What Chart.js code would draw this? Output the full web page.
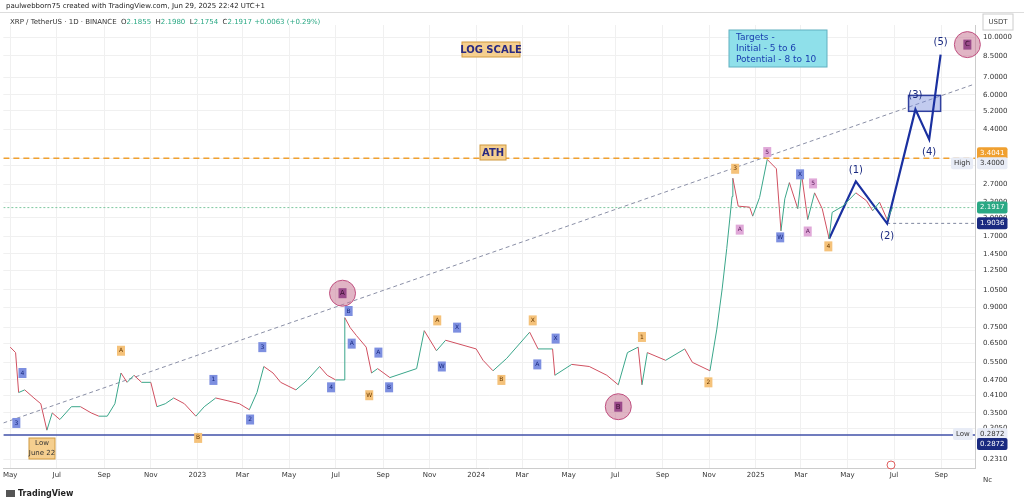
<!DOCTYPE html>
<html><head><meta charset="utf-8">
<script src="https://cdn.jsdelivr.net/npm/chart.js@4/dist/chart.umd.min.js"></script>
<style>html,body{margin:0;padding:0;background:#fff;overflow:hidden}#w{position:relative;width:1024px;height:501px}canvas{display:block}</style>
</head><body><div id="w"><canvas id="c" width="1024" height="501"></canvas></div>
<script>
const priceDates=["2022-05-01","2022-05-08","2022-05-12","2022-05-20","2022-06-01","2022-06-10","2022-06-18","2022-06-25","2022-07-05","2022-07-20","2022-08-01","2022-08-15","2022-08-25","2022-09-05","2022-09-15","2022-09-23","2022-10-01","2022-10-10","2022-10-20","2022-11-01","2022-11-09","2022-11-20","2022-12-01","2022-12-15","2022-12-30","2023-01-10","2023-01-25","2023-02-10","2023-02-25","2023-03-10","2023-03-20","2023-03-29","2023-04-10","2023-04-20","2023-05-10","2023-05-25","2023-06-10","2023-06-20","2023-07-01","2023-07-12","2023-07-13","2023-07-20","2023-07-28","2023-08-10","2023-08-17","2023-08-25","2023-09-10","2023-10-15","2023-10-25","2023-11-10","2023-11-22","2024-01-01","2024-01-10","2024-01-23","2024-02-10","2024-03-11","2024-03-22","2024-04-10","2024-04-13","2024-05-05","2024-05-28","2024-06-20","2024-07-05","2024-07-17","2024-07-31","2024-08-05","2024-08-12","2024-09-05","2024-09-30","2024-10-10","2024-11-02","2024-11-11","2024-11-18","2024-11-24","2024-12-01","2024-12-02","2024-12-09","2024-12-24","2024-12-28","2025-01-06","2025-01-16","2025-01-28","2025-02-03","2025-02-08","2025-02-14","2025-02-25","2025-03-02","2025-03-10","2025-03-19","2025-03-29","2025-04-07","2025-04-11","2025-04-25","2025-05-12","2025-05-26","2025-06-03","2025-06-12","2025-06-22","2025-06-29"];
const priceValues=[0.63,0.60,0.42,0.43,0.40,0.38,0.30,0.35,0.33,0.37,0.37,0.35,0.34,0.34,0.38,0.50,0.46,0.49,0.46,0.46,0.37,0.38,0.40,0.38,0.34,0.37,0.40,0.39,0.38,0.36,0.42,0.53,0.50,0.46,0.43,0.47,0.53,0.49,0.47,0.47,0.82,0.75,0.70,0.63,0.50,0.52,0.48,0.52,0.73,0.61,0.67,0.62,0.56,0.51,0.57,0.72,0.62,0.62,0.49,0.54,0.53,0.49,0.45,0.60,0.63,0.45,0.60,0.56,0.62,0.55,0.51,0.74,1.06,1.52,2.42,2.85,2.22,2.20,2.03,2.40,3.37,3.10,1.78,2.37,2.74,2.17,2.95,1.97,2.50,2.17,1.66,2.10,2.22,2.50,2.33,2.13,2.30,1.97,2.19];
const projDates=["2025-04-07","2025-05-12","2025-06-22","2025-07-29","2025-08-16","2025-08-31"];
const projValues=[1.66,2.77,1.90,5.27,4.03,8.6];
const projLabels=["","(1)","(2)","(3)","(4)","(5)"];
const yTickValues=[10,8.5,7,6,5.2,4.4,3.4,3.2,2.7,2.3,2.0,1.7,1.45,1.25,1.05,0.9,0.75,0.65,0.55,0.47,0.41,0.35,0.305,0.231];
const markDates=["2022-05-09","2022-05-17","2022-09-23","2023-01-02","2023-01-22","2023-03-11","2023-03-27","2023-06-25","2023-07-18","2023-07-22","2023-08-14","2023-08-26","2023-09-09","2023-11-11","2023-11-17","2023-12-07","2024-02-03","2024-03-15","2024-03-21","2024-04-14","2024-08-05","2024-10-31","2024-12-05","2024-12-11","2025-01-16","2025-02-02","2025-02-28","2025-03-10","2025-03-17","2025-04-06"];
const markValues=[0.32,0.50,0.61,0.28,0.47,0.33,0.63,0.44,0.87,0.65,0.41,0.60,0.44,0.80,0.53,0.75,0.47,0.80,0.54,0.68,0.69,0.46,3.1,1.8,3.6,1.68,2.95,1.77,2.72,1.55];
const markTexts=["3","4","A","B","1","2","3","4","B","A","W","A","B","A","W","X","B","X","A","X","1","2","3","A","5","W","X","A","5","4"];
const markKinds=["b","b","o","o","b","b","b","b","b","b","o","b","b","o","b","b","o","o","b","b","o","o","o","p","p","b","b","p","p","o"];
const circleDates=["2023-07-10","2024-07-05","2025-10-05"];
const circleValues=[1.02,0.37,9.4];
const circleTexts=["A","B","C"];
const trendDates=["2022-04-22","2025-10-14"];
const trendValues=[0.32,6.6];
const levelATH=3.4041, levelLast=2.1917, levelPivot=1.9036, levelLow=0.2872;
const boxDates=["2025-07-20","2025-08-31"], boxValues=[5.18,5.97];

const T0=Date.parse("2022-04-22");
const day=s=>(Date.parse(s)-T0)/864e5;
const pricePts=priceDates.map((d,i)=>({x:day(d),y:priceValues[i]}));
const projPts=projDates.map((d,i)=>({x:day(d),y:projValues[i]}));
const mons=["Jan","Feb","Mar","Apr","May","Jun","Jul","Aug","Sep","Oct","Nov","Dec"];
const xTicks=[];
for(let y=2022;y<=2025;y++)for(let m=0;m<12;m+=2){const mm=(m+4)%12,yy=y+Math.floor((m+4)/12);const v=(Date.UTC(yy,mm,1)-T0)/864e5;if(v>0&&v<1272&&!xTicks.find(t=>t.v===v))xTicks.push({v,l:mm===0?String(yy):mons[mm]});}

function rr(ctx,x,y,w,h,r){ctx.beginPath();ctx.roundRect(x,y,w,h,r);}
function tag(ctx,x,y,text,bg,fg,font){ctx.font=font||'7px "DejaVu Sans"';const w=ctx.measureText(text).width+6;ctx.fillStyle=bg;rr(ctx,x,y-6,w,12,2);ctx.fill();ctx.fillStyle=fg;ctx.textBaseline='middle';ctx.textAlign='left';ctx.fillText(text,x+3,y);}

const overlay={id:'ov',
beforeDatasetsDraw(ch){const {ctx,scales:{x,y},chartArea:a}=ch;ctx.save();
 ctx.beginPath();ctx.rect(a.left,a.top,a.right-a.left,a.bottom-a.top);ctx.clip();
 ctx.setLineDash([4,3]);ctx.strokeStyle='#8a8fa6';ctx.lineWidth=1;ctx.beginPath();
 ctx.moveTo(x.getPixelForValue(day(trendDates[0])),y.getPixelForValue(trendValues[0]));ctx.lineTo(x.getPixelForValue(day(trendDates[1])),y.getPixelForValue(trendValues[1]));ctx.stroke();
 ctx.setLineDash([6,4]);ctx.strokeStyle='#f0a030';ctx.lineWidth=1.5;ctx.beginPath();const ya=y.getPixelForValue(levelATH);ctx.moveTo(a.left,ya);ctx.lineTo(a.right,ya);ctx.stroke();
 ctx.setLineDash([2,2]);ctx.strokeStyle='#7fc8a0';ctx.lineWidth=1;ctx.beginPath();const yl=y.getPixelForValue(levelLast);ctx.moveTo(a.left,yl);ctx.lineTo(a.right,yl);ctx.stroke();
 ctx.setLineDash([3,3]);ctx.strokeStyle='#8088a0';ctx.beginPath();const yp=y.getPixelForValue(levelPivot);ctx.moveTo(x.getPixelForValue(day("2025-06-22")),yp);ctx.lineTo(a.right,yp);ctx.stroke();
 ctx.setLineDash([]);ctx.strokeStyle='#4050a8';ctx.lineWidth=1.5;ctx.beginPath();const yo=y.getPixelForValue(levelLow);ctx.moveTo(a.left,yo);ctx.lineTo(a.right,yo);ctx.stroke();
 const bx0=x.getPixelForValue(day(boxDates[0])),bx1=x.getPixelForValue(day(boxDates[1])),by0=y.getPixelForValue(boxValues[1]),by1=y.getPixelForValue(boxValues[0]);
 ctx.fillStyle='rgba(120,140,220,0.45)';ctx.fillRect(bx0,by0,bx1-bx0,by1-by0);ctx.strokeStyle='#3040a0';ctx.strokeRect(bx0,by0,bx1-bx0,by1-by0);
 ctx.restore();},
afterDatasetsDraw(ch){const {ctx,scales:{x,y},chartArea:a}=ch;ctx.save();
 circleDates.forEach((d,i)=>{const cx=x.getPixelForValue(day(d)),cy=y.getPixelForValue(circleValues[i]);ctx.beginPath();ctx.arc(cx,cy,13,0,Math.PI*2);ctx.fillStyle='rgba(200,120,150,0.55)';ctx.fill();ctx.strokeStyle='#c05080';ctx.lineWidth=1;ctx.stroke();ctx.fillStyle='#9a4a8a';ctx.fillRect(cx-4,cy-5,8,10);ctx.fillStyle='#3a1030';ctx.font='7px "DejaVu Sans"';ctx.textAlign='center';ctx.textBaseline='middle';ctx.fillText(circleTexts[i],cx,cy);});
 const col={b:['#7d8fe0','#1a2a80'],o:['#f5c27a','#6a3a00'],p:['#e0a8d8','#602060']};
 markDates.forEach((d,i)=>{const cx=x.getPixelForValue(day(d)),cy=y.getPixelForValue(markValues[i]);const c=col[markKinds[i]];ctx.fillStyle=c[0];ctx.fillRect(cx-4,cy-5,8,10);ctx.fillStyle=c[1];ctx.font='6px "DejaVu Sans"';ctx.textAlign='center';ctx.textBaseline='middle';ctx.fillText(markTexts[i],cx,cy);});
 ctx.font='10px "DejaVu Sans"';ctx.fillStyle='#1a2a80';ctx.textAlign='center';
 const off=[0,-11,13,-14,13,-12];
 projPts.forEach((p,i)=>{if(projLabels[i])ctx.fillText(projLabels[i],x.getPixelForValue(p.x),y.getPixelForValue(p.y)+off[i]);});
 ctx.font='bold 10px "DejaVu Sans"';
 ctx.fillStyle='#f5cf8f';ctx.fillRect(462,42,58,15);ctx.strokeStyle='#d09a40';ctx.strokeRect(462,42,58,15);ctx.fillStyle='#2a2a80';ctx.textAlign='center';ctx.fillText('LOG SCALE',491,50);
 ctx.fillStyle='#f5cf8f';ctx.fillRect(480,145,26,15);ctx.strokeRect(480,145,26,15);ctx.fillStyle='#2a2a80';ctx.fillText('ATH',493,153);
 ctx.fillStyle='#8fe0ea';ctx.fillRect(729,30,98,37);ctx.strokeStyle='#60b0c0';ctx.strokeRect(729,30,98,37);
 ctx.font='9px "DejaVu Sans"';ctx.fillStyle='#1a40b0';ctx.textAlign='left';ctx.fillText('Targets -',736,38);ctx.fillText('Initial - 5 to 6',736,49);ctx.fillText('Potential - 8 to 10',736,60);
 ctx.font='7px "DejaVu Sans"';ctx.fillStyle='#f5cf8f';ctx.fillRect(29,438,26,21);ctx.strokeStyle='#d09a40';ctx.strokeRect(29,438,26,21);ctx.fillStyle='#333';ctx.textAlign='center';ctx.fillText('Low',42,443);ctx.fillText('June 22',42,453);
 const rx=a.right+2;
 tag(ctx,rx,y.getPixelForValue(levelATH)-5,levelATH.toFixed(4),'#f0a030','#fff');
 tag(ctx,rx,y.getPixelForValue(levelATH)+5,'3.4000','#e8ecf6','#333');
 tag(ctx,rx-26,y.getPixelForValue(levelATH)+5,'High','#e8ecf6','#333');
 tag(ctx,rx,y.getPixelForValue(levelLast),levelLast.toFixed(4),'#2aa884','#fff');
 tag(ctx,rx,y.getPixelForValue(levelPivot),levelPivot.toFixed(4),'#1a2a80','#fff');
 tag(ctx,rx,y.getPixelForValue(levelLow)-1,levelLow.toFixed(4),'#e8ecf6','#333');
 tag(ctx,rx-24,y.getPixelForValue(levelLow)-1,'Low','#e8ecf6','#333');
 tag(ctx,rx,y.getPixelForValue(levelLow)+9,levelLow.toFixed(4),'#1a2a80','#fff');
 ctx.strokeStyle='#ccc';ctx.strokeRect(rx+6,14,30,16);ctx.fillStyle='#444';ctx.font='7px "DejaVu Sans"';ctx.textAlign='center';ctx.textBaseline='middle';ctx.fillText('USDT',rx+21,22);
 ctx.textAlign='left';ctx.fillStyle='#222';ctx.fillText('paulwebborn75 created with TradingView.com, Jun 29, 2025 22:42 UTC+1',6,6);
 ctx.strokeStyle='#ddd';ctx.beginPath();ctx.moveTo(0,12.5);ctx.lineTo(1024,12.5);ctx.stroke();
 let hx=10;const seg=[['XRP / TetherUS · 1D · BINANCE  ','#333'],['O','#333'],['2.1855  ','#2aa884'],['H','#333'],['2.1980  ','#2aa884'],['L','#333'],['2.1754  ','#2aa884'],['C','#333'],['2.1917 +0.0063 (+0.29%)','#2aa884']];
 seg.forEach(s=>{ctx.fillStyle=s[1];ctx.fillText(s[0],hx,22);hx+=ctx.measureText(s[0]).width;});
 ctx.fillStyle='#333';ctx.fillText('Nc',a.right+8,a.bottom+12);
 ctx.fillStyle='#222';ctx.font='bold 8px "DejaVu Sans"';ctx.fillText('TradingView',18,494);ctx.fillStyle='#555';ctx.fillRect(6,490,9,7);
 ctx.strokeStyle='#e06060';ctx.beginPath();ctx.arc(891,465,4,0,Math.PI*2);ctx.stroke();
 ctx.restore();}
};

new Chart(document.getElementById('c'),{
 type:'line',
 data:{datasets:[
  {data:pricePts,borderWidth:1,pointRadius:0,tension:0,segment:{borderColor:c=>c.p1.parsed.y>=c.p0.parsed.y?'#3aa68a':'#d05060'}},
  {data:projPts,borderColor:'#1a30a0',borderWidth:2.2,pointRadius:0,tension:0}
 ]},
 options:{responsive:false,animation:false,events:[],
  layout:{padding:{top:25,left:0,right:0,bottom:0}},
  plugins:{legend:{display:false},tooltip:{enabled:false}},
  scales:{
   x:{type:'linear',min:0,max:1272,
    afterBuildTicks:s=>{s.ticks=xTicks.map(t=>({value:t.v}));},
    afterFit:s=>{s.height=33;},
    ticks:{autoSkip:false,maxRotation:0,color:'#333',font:{size:7,family:'DejaVu Sans'},callback:v=>{const t=xTicks.find(k=>k.v===v);return t?t.l:'';}},
    grid:{color:'#f0f0f0',drawTicks:false},border:{color:'#ccc'}},
   y:{type:'logarithmic',position:'right',min:0.214,max:11.2,
    afterBuildTicks:s=>{s.ticks=yTickValues.map(v=>({value:v}));},
    afterFit:s=>{s.width=49;},
    ticks:{autoSkip:false,color:'#333',font:{size:7,family:'DejaVu Sans'},padding:8,callback:v=>Number(v).toFixed(4)},
    grid:{color:'#f0f0f0',drawTicks:false},border:{color:'#ccc'}}
  }},
 plugins:[overlay]
});
</script></body></html>
